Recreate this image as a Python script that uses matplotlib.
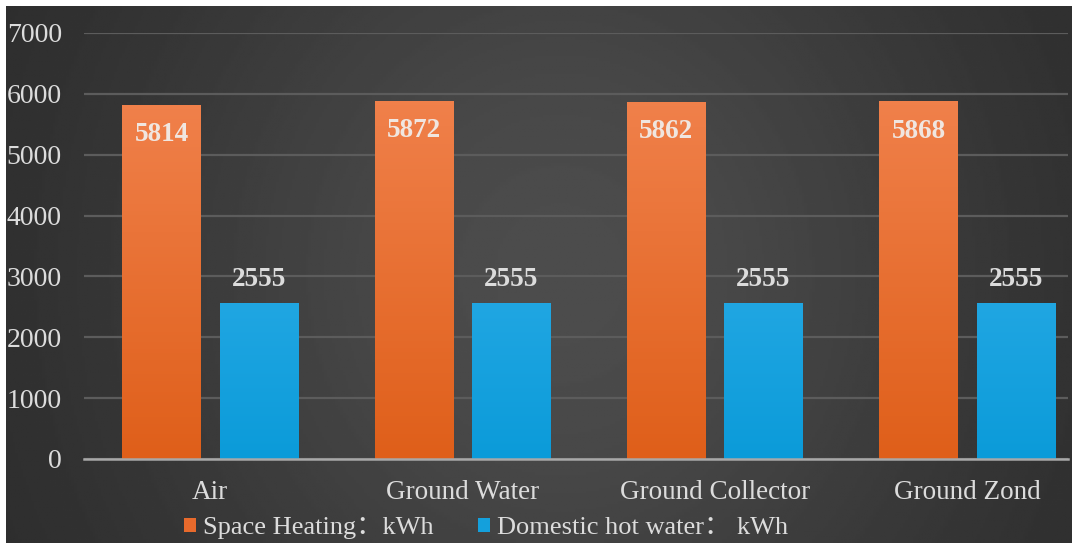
import matplotlib
matplotlib.use("Agg")
import matplotlib.pyplot as plt
import matplotlib.colors as mcolors
import numpy as np

# Data
categories = ["Air", "Ground Water", "Ground Collector", "Ground Zond"]
space_heating = [5814, 5872, 5862, 5868]
hot_water = [2555, 2555, 2555, 2555]
series_names = ["Space Heating\uff1akWh", "Domestic hot water\uff1a kWh"]
yticks = [0, 1000, 2000, 3000, 4000, 5000, 6000, 7000]

plt.rcParams["font.family"] = ["Liberation Serif", "Noto Sans CJK SC", "DejaVu Sans"]
txt = "#dcdcdc"

W, H = 1074, 544
fig = plt.figure(figsize=(W / 100, H / 100), dpi=100)
fig.patch.set_facecolor("white")

# Dark radial-ish background
bg = fig.add_axes([6 / W, 1 / H, (W - 8) / W, (H - 7) / H])
gx, gy = np.meshgrid(np.linspace(0, 1, 400), np.linspace(0, 1, 200))
val = 0.16 + 0.14 * np.exp(-((gx - 0.52) / 0.42) ** 2 - ((gy - 0.5) / 0.9) ** 2)
bg.imshow(val, cmap="gray", vmin=0, vmax=1, aspect="auto", extent=(0, 1, 0, 1))
bg.set_axis_off()

# Main axes
ax = fig.add_axes([84 / W, 85 / H, 984 / W, 426 / H])
ax.set_facecolor("none")
x = np.arange(len(categories))
bw = 0.31
off = 0.193

orange_cmap = mcolors.LinearSegmentedColormap.from_list("o", ["#df5f1a", "#f0804a"])
blue_cmap = mcolors.LinearSegmentedColormap.from_list("b", ["#0b9bd9", "#20a6e2"])

b1 = ax.bar(x - off, space_heating, bw, color="#e86a2c", zorder=2, label=series_names[0])
b2 = ax.bar(x + off, hot_water, bw, color="#14a0dc", zorder=2, label=series_names[1])

grad = np.linspace(0, 1, 100).reshape(-1, 1)
for bars, cmap in ((b1, orange_cmap), (b2, blue_cmap)):
    for r in bars:
        x0, w, h = r.get_x(), r.get_width(), r.get_height()
        ax.imshow(grad, cmap=cmap, origin="lower", aspect="auto",
                  extent=(x0, x0 + w, 0, h), zorder=2.5)

for r, v in zip(b1, space_heating):
    ax.annotate(str(v), (r.get_x() + r.get_width() / 2, v), xytext=(0, -21),
                textcoords="offset points", ha="center", va="center",
                fontsize=19.5, fontweight="bold", color="#f0e6e0", zorder=4)
for r, v in zip(b2, hot_water):
    ax.annotate(str(v), (r.get_x() + r.get_width() / 2, v), xytext=(0, 17),
                textcoords="offset points", ha="center", va="center",
                fontsize=19.5, fontweight="bold", color=txt, zorder=4)

ax.set_xlim(-0.5, 3.4)
ax.set_ylim(0, 7000)
ax.set_yticks(yticks)
ax.set_xticks(x)
ax.set_xticklabels(categories)
ax.tick_params(axis="y", length=0, pad=16, labelsize=20, labelcolor=txt)
ax.tick_params(axis="x", length=0, pad=15, labelsize=19.5, labelcolor=txt)
ax.yaxis.grid(True, color="#5c5c5c", linewidth=1.6, zorder=0)
ax.set_axisbelow(True)
for s in ["top", "right", "left"]:
    ax.spines[s].set_visible(False)
ax.spines["bottom"].set_color("#a8a8a8")
ax.spines["bottom"].set_linewidth(1.8)
ax.spines["bottom"].set_zorder(3)

leg = fig.legend(loc="center", bbox_to_anchor=(486 / W, 1 - 528 / H), ncol=2,
                 frameon=False, fontsize=19, handlelength=0.45, handleheight=0.45,
                 handletextpad=0.25, columnspacing=1.7, labelcolor=txt)

fig.savefig("out.png", dpi=100, facecolor=fig.get_facecolor())
